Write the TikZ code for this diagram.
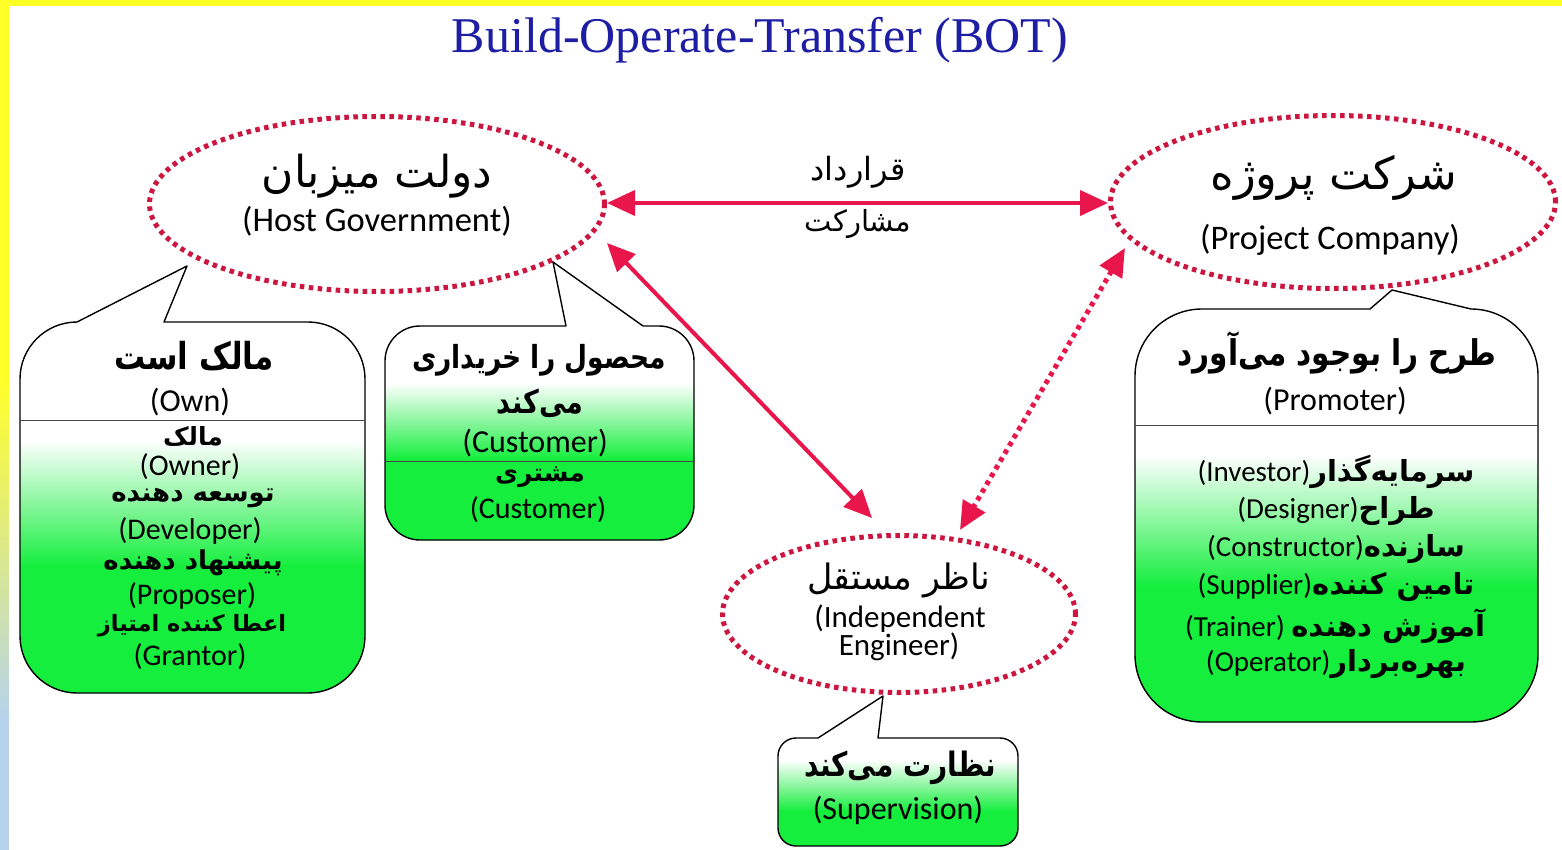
\documentclass[tikz,border=0pt]{standalone}
\usepackage{graphicx}
\usepackage{fontspec}
\setmainfont{Carlito}
\newfontfamily\titlefont{Liberation Serif}
\newfontfamily\fafont[Script=Arabic]{DejaVu Sans}
\TeXXeTstate=1
\usetikzlibrary{shapes.geometric,arrows.meta}

\definecolor{dotred}{RGB}{204,22,64}
\definecolor{arrred}{RGB}{232,22,74}
\definecolor{bubgreen}{RGB}{22,238,62}
\definecolor{titleblue}{RGB}{30,30,165}
\definecolor{edgeyellow}{RGB}{255,255,40}
\definecolor{edgeblue}{RGB}{182,210,236}
\definecolor{rulegray}{RGB}{70,70,70}

\newcommand\sz[1]{\fontsize{#1}{#1}\selectfont}
\newcommand\fa[1]{{\fafont\beginR #1\endR}}
% bold Persian; the headings are set a little taller than the font's own proportions
\newcommand\fabs[1]{{\fafont\bfseries\beginR #1\endR}}
\newcommand\fab[1]{\scalebox{1}[1.2]{\fabs{#1}}}

% rounded callout with a wedge on its top edge:
% #1 left, #2 top, #3 right, #4 bottom, #5 corner radius,
% #6 wedge base left x, #7 wedge base right x, #8 wedge tip
\newcommand\bubblepath[8]{(#1,#2+#5) .. controls (#1,#2+0.448*#5) and (#1+0.448*#5,#2) .. (#1+#5,#2)
  -- (#6,#2) -- #8 -- (#7,#2)
  -- (#3-#5,#2) .. controls (#3-0.448*#5,#2) and (#3,#2+0.448*#5) .. (#3,#2+#5)
  -- (#3,#4-#5) .. controls (#3,#4-0.448*#5) and (#3-0.448*#5,#4) .. (#3-#5,#4)
  -- (#1+#5,#4) .. controls (#1+0.448*#5,#4) and (#1,#4-0.448*#5) .. (#1,#4-#5) -- cycle}

\tikzset{
  party/.style={ellipse, draw=dotred, line width=5pt, dash pattern=on 4.5pt off 4.5pt, inner sep=0pt},
  bubble/.style={draw=black, line width=1.4pt, line join=round},
  divider/.style={draw=rulegray, line width=1pt},
  solidlink/.style={draw=arrred, line width=4pt,
    {Triangle[length=28pt,width=25pt]}-{Triangle[length=28pt,width=25pt]}},
  dotlink/.style={draw=arrred, line width=5pt, dash pattern=on 4.5pt off 4.5pt,
    {Triangle[length=28pt,width=25pt]}-{Triangle[length=28pt,width=25pt]}},
  txt/.style={inner sep=0pt, anchor=center},
}

\begin{document}
\begin{tikzpicture}[x=1pt, y=-1pt]
% page and coloured frame
\fill[white] (0,0) rectangle (1562,850);
\useasboundingbox (0,0) rectangle (1562,850);
\fill[edgeyellow] (0,0) rectangle (1562,6);
\fill[edgeyellow] (0,0) rectangle (9,381);
\shade[top color=edgeyellow, bottom color=edgeblue] (0,380) rectangle (9,721);
\fill[edgeblue] (0,720) rectangle (9,850);

% title
\node[txt, text=titleblue] (title) at (760,40) {\titlefont\sz{50}Build-Operate-Transfer (BOT)};

% the three parties
\node[party, minimum width=455pt, minimum height=175pt] (host) at (377,204) {};
\node[party, minimum width=445pt, minimum height=173pt] (proj) at (1333,202) {};
\node[party, minimum width=353pt, minimum height=157pt] (eng) at (899,614) {};

% wedge tips and link ends
\coordinate (ownTip) at ([shift={(-190,62)}]host.center);
\coordinate (cusTip) at ([shift={(176,58)}]host.center);
\coordinate (proTip) at ([shift={(59,88)}]proj.center);
\coordinate (supTip) at ([shift={(-16,82)}]eng.center);
\coordinate (hostE) at ([shift={(0,-1)}]host.east);
\coordinate (hostSE) at ([shift={(230,39)}]host.center);
\coordinate (engNW) at ([shift={(-27,-96)}]eng.center);
\coordinate (projSW) at ([shift={(-208,46)}]proj.center);
\coordinate (engNE) at ([shift={(61,-84)}]eng.center);

% callout: owner
\begin{scope}
  \clip \bubblepath{20}{322}{365}{693}{57}{77}{164}{(ownTip)};
  \fill[white] (0,250) rectangle (400,441);
  \shade[top color=white, bottom color=bubgreen] (0,440) rectangle (400,566);
  \fill[bubgreen] (0,565) rectangle (400,700);
\end{scope}
\draw[bubble] \bubblepath{20}{322}{365}{693}{57}{77}{164}{(ownTip)};
\draw[divider] (20,420) -- (365,420);

% callout: customer
\begin{scope}
  \clip \bubblepath{385}{326}{694}{540}{35}{566}{643}{(cusTip)};
  \fill[white] (370,250) rectangle (710,384);
  \shade[top color=white, bottom color=bubgreen] (370,383) rectangle (710,459);
  \fill[bubgreen] (370,458) rectangle (710,550);
\end{scope}
\draw[bubble] \bubblepath{385}{326}{694}{540}{35}{566}{643}{(cusTip)};
\draw[divider] (385,461) -- (694,461);

% callout: promoter
\begin{scope}
  \clip \bubblepath{1135}{309}{1538}{722}{67}{1370}{1471}{(proTip)};
  \fill[white] (1120,280) rectangle (1550,456);
  \shade[top color=white, bottom color=bubgreen] (1120,455) rectangle (1550,586);
  \fill[bubgreen] (1120,585) rectangle (1550,730);
\end{scope}
\draw[bubble] \bubblepath{1135}{309}{1538}{722}{67}{1370}{1471}{(proTip)};
\draw[divider] (1135,425) -- (1538,425);

% callout: supervision
\begin{scope}
  \clip \bubblepath{778}{738}{1018}{846}{18}{818}{878}{(supTip)};
  \fill[white] (770,690) rectangle (1030,761);
  \shade[top color=white, bottom color=bubgreen] (770,760) rectangle (1030,811);
  \fill[bubgreen] (770,810) rectangle (1030,850);
\end{scope}
\draw[bubble] \bubblepath{778}{738}{1018}{846}{18}{818}{878}{(supTip)};

% links between the parties
\draw[solidlink] (hostE) -- (hostE -| proj.west);
\draw[solidlink] (hostSE) -- (engNW);
\draw[dotlink] (projSW) -- (engNE);

% party names
\node[txt] (hostFa) at (377,176) {\sz{44}\fa{دولت میزبان}};
\node[txt] (hostEn) at (377,221) {\sz{34.5}(Host Government)};
\node[txt] (projFa) at (1334,178) {\sz{45}\fa{شرکت پروژه}};
\node[txt] (projEn) at (1330,240) {\sz{34.5}(Project Company)};
\node[txt] (engFa) at (899,580) {\sz{35}\fa{ناظر مستقل}};
\node[txt] (engEn1) at (900,619) {\sz{31}(Independent};
\node[txt] (engEn2) at (899,647) {\sz{31}Engineer)};

% contract labels
\node[txt] (ctA) at (858,172) {\sz{32}\fa{قرارداد}};
\node[txt] (ctB) at (858,224) {\sz{29}\fa{مشارکت}};

% owner texts
\node[txt] (own0) at (194,356) {\sz{31}\fab{مالک است}};
\node[txt] (ownE) at (190,402) {\sz{32}(Own)};
\node[txt] (own1) at (193,436) {\sz{25}\fabs{مالک}};
\node[txt] (own2) at (190,467) {\sz{30}(Owner)};
\node[txt] (own3) at (193,498) {\sz{26}\fabs{توسعه دهنده}};
\node[txt] (own4) at (190,531) {\sz{30}(Developer)};
\node[txt] (own5) at (193,563) {\sz{26}\fabs{پیشنهاد دهنده}};
\node[txt] (own6) at (192,596) {\sz{30}(Proposer)};
\node[txt] (own7) at (192,626) {\sz{22.5}\fabs{اعطا کننده امتیاز}};
\node[txt] (own8) at (190,657) {\sz{30}(Grantor)};

% customer texts
\node[txt] (cus0) at (539,360) {\sz{26.5}\fab{محصول را خریداری}};
\node[txt] (cus1) at (540,403) {\sz{27}\fab{می‌کند}};
\node[txt] (cusE) at (535,443) {\sz{32}(Customer)};
\node[txt] (cus2) at (540,477) {\sz{25}\fabs{مشتری}};
\node[txt] (cus3) at (538,510) {\sz{30}(Customer)};

% promoter texts
\node[txt] (pro0) at (1337,353) {\sz{29.5}\fab{طرح را بوجود می‌آورد}};
\node[txt] (proE) at (1335,401) {\sz{32}(Promoter)};
\node[txt] (pro1) at (1336,472) {\sz{29}(Investor)\fabs{سرمایه‌گذار}};
\node[txt] (pro2) at (1336,511) {\sz{29}(Designer)\fabs{طراح}};
\node[txt] (pro3) at (1336,549) {\sz{29}(Constructor)\fabs{سازنده}};
\node[txt] (pro4) at (1336,587) {\sz{29}(Supplier)\fabs{تامین کننده}};
\node[txt] (pro5) at (1335,626) {\sz{29}(Trainer) \fabs{آموزش دهنده}};
\node[txt] (pro6) at (1336,664) {\sz{29}(Operator)\fabs{بهره‌بردار}};

% supervision texts
\node[txt] (sup0) at (900,768) {\sz{28}\fab{نظارت می‌کند}};
\node[txt] (supE) at (898,810) {\sz{32}(Supervision)};
\end{tikzpicture}
\end{document}
